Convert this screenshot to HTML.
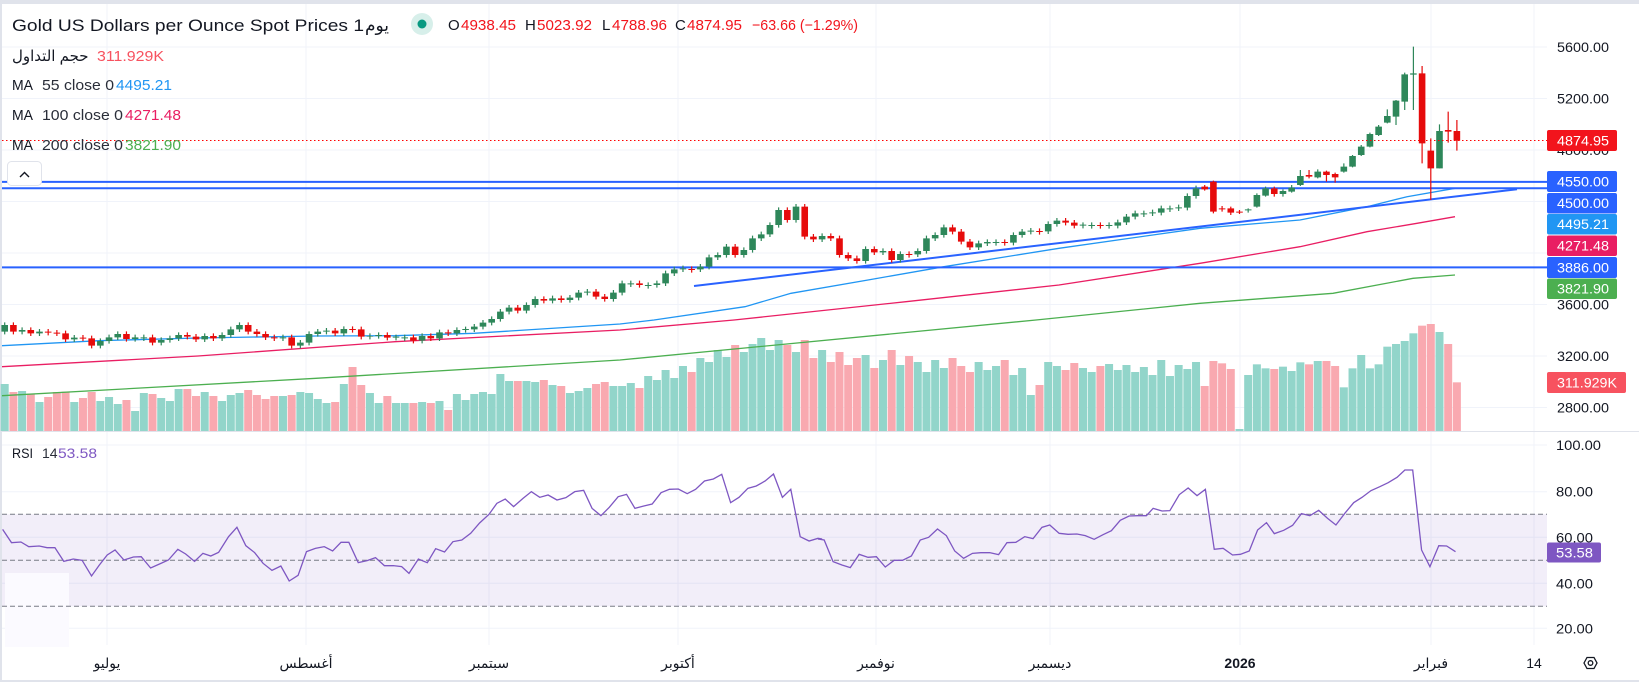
<!DOCTYPE html>
<html><head><meta charset="utf-8">
<style>
html,body{margin:0;padding:0;background:#fff;}
svg{display:block;font-family:"Liberation Sans","DejaVu Sans","Noto Sans CJK SC",sans-serif;}
.g{fill:#92d5ca}.r{fill:#f9a9b0}
.ns{vector-effect:non-scaling-stroke;fill:none}
</style></head>
<body>
<svg width="1639" height="682" viewBox="0 0 1639 682" xmlns="http://www.w3.org/2000/svg">
<rect x="0" y="0" width="1639" height="682" fill="#e0e3eb"/>
<rect x="2" y="4" width="1637" height="676" fill="#ffffff"/>
<g stroke="#f0f3fa" stroke-width="1">
<line x1="2" x2="1547" y1="47" y2="47"/><line x1="2" x2="1547" y1="98.5" y2="98.5"/><line x1="2" x2="1547" y1="150" y2="150"/><line x1="2" x2="1547" y1="201.5" y2="201.5"/><line x1="2" x2="1547" y1="253" y2="253"/><line x1="2" x2="1547" y1="304.5" y2="304.5"/><line x1="2" x2="1547" y1="356" y2="356"/><line x1="2" x2="1547" y1="407.5" y2="407.5"/>
<line y1="4" y2="645" x1="107" x2="107"/><line y1="4" y2="645" x1="306" x2="306"/><line y1="4" y2="645" x1="489" x2="489"/><line y1="4" y2="645" x1="678" x2="678"/><line y1="4" y2="645" x1="876" x2="876"/><line y1="4" y2="645" x1="1050" x2="1050"/><line y1="4" y2="645" x1="1240" x2="1240"/><line y1="4" y2="645" x1="1431" x2="1431"/><line y1="4" y2="645" x1="1534" x2="1534"/>
<line x1="2" x2="1547" y1="445" y2="445"/><line x1="2" x2="1547" y1="491.7" y2="491.7"/><line x1="2" x2="1547" y1="537.3" y2="537.3"/><line x1="2" x2="1547" y1="583.3" y2="583.3"/><line x1="2" x2="1547" y1="628.3" y2="628.3"/>
</g>
<rect x="2" y="514.3" width="1545" height="92" fill="rgba(126,87,194,0.1)"/>
<rect x="5" y="573" width="64" height="74" fill="#fbfaff"/>
<g stroke="#787b86" stroke-dasharray="5 3"><line x1="2" x2="1547" y1="514.3" y2="514.3"/><line x1="2" x2="1547" y1="560.3" y2="560.3"/><line x1="2" x2="1547" y1="606.3" y2="606.3"/></g>
<line x1="0" x2="1639" y1="431.5" y2="431.5" stroke="#e0e3eb"/>

<g transform="translate(4.7,250) scale(8.696,0.33333)">
<rect class="g" x="-0.46" width=".92" y="402" height="141"/><rect class="r" x="0.54" width=".92" y="426" height="117"/><rect class="g" x="1.54" width=".92" y="423" height="120"/><rect class="r" x="2.54" width=".92" y="431" height="112"/><rect class="g" x="3.54" width=".92" y="456" height="87"/><rect class="r" x="4.54" width=".92" y="441" height="102"/><rect class="r" x="5.54" width=".92" y="426" height="117"/><rect class="r" x="6.54" width=".92" y="425" height="118"/><rect class="g" x="7.54" width=".92" y="456" height="87"/><rect class="r" x="8.54" width=".92" y="444" height="99"/>
<rect class="r" x="9.54" width=".92" y="426" height="117"/><rect class="g" x="10.54" width=".92" y="453" height="90"/><rect class="g" x="11.54" width=".92" y="441" height="102"/><rect class="g" x="12.54" width=".92" y="462" height="81"/><rect class="r" x="13.54" width=".92" y="450" height="93"/><rect class="g" x="14.54" width=".92" y="483" height="60"/><rect class="g" x="15.54" width=".92" y="429" height="114"/><rect class="r" x="16.54" width=".92" y="432" height="111"/><rect class="g" x="17.54" width=".92" y="444" height="99"/><rect class="g" x="18.54" width=".92" y="453" height="90"/>
<rect class="g" x="19.54" width=".92" y="417" height="126"/><rect class="r" x="20.54" width=".92" y="417" height="126"/><rect class="r" x="21.54" width=".92" y="438" height="105"/><rect class="g" x="22.54" width=".92" y="426" height="117"/><rect class="r" x="23.54" width=".92" y="438" height="105"/><rect class="g" x="24.54" width=".92" y="453" height="90"/><rect class="g" x="25.54" width=".92" y="435" height="108"/><rect class="g" x="26.54" width=".92" y="429" height="114"/><rect class="r" x="27.54" width=".92" y="420" height="123"/><rect class="r" x="28.54" width=".92" y="435" height="108"/>
<rect class="r" x="29.54" width=".92" y="447" height="96"/><rect class="r" x="30.54" width=".92" y="438" height="105"/><rect class="g" x="31.54" width=".92" y="438" height="105"/><rect class="r" x="32.54" width=".92" y="435" height="108"/><rect class="g" x="33.54" width=".92" y="426" height="117"/><rect class="g" x="34.54" width=".92" y="429" height="114"/><rect class="g" x="35.54" width=".92" y="447" height="96"/><rect class="g" x="36.54" width=".92" y="459" height="84"/><rect class="r" x="37.54" width=".92" y="456" height="87"/><rect class="g" x="38.54" width=".92" y="402" height="141"/>
<rect class="r" x="39.54" width=".92" y="351" height="192"/><rect class="r" x="40.54" width=".92" y="405" height="138"/><rect class="g" x="41.54" width=".92" y="429" height="114"/><rect class="g" x="42.54" width=".92" y="459" height="84"/><rect class="r" x="43.54" width=".92" y="438" height="105"/><rect class="g" x="44.54" width=".92" y="459" height="84"/><rect class="g" x="45.54" width=".92" y="459" height="84"/><rect class="r" x="46.54" width=".92" y="459" height="84"/><rect class="g" x="47.54" width=".92" y="456" height="87"/><rect class="r" x="48.54" width=".92" y="459" height="84"/>
<rect class="g" x="49.54" width=".92" y="453" height="90"/><rect class="r" x="50.54" width=".92" y="480" height="63"/><rect class="g" x="51.54" width=".92" y="432" height="111"/><rect class="g" x="52.54" width=".92" y="450" height="93"/><rect class="g" x="53.54" width=".92" y="432" height="111"/><rect class="g" x="54.54" width=".92" y="426" height="117"/><rect class="g" x="55.54" width=".92" y="432" height="111"/><rect class="g" x="56.54" width=".92" y="372" height="171"/><rect class="g" x="57.54" width=".92" y="393" height="150"/><rect class="r" x="58.54" width=".92" y="393" height="150"/>
<rect class="g" x="59.54" width=".92" y="393" height="150"/><rect class="g" x="60.54" width=".92" y="396" height="147"/><rect class="r" x="61.54" width=".92" y="390" height="153"/><rect class="g" x="62.54" width=".92" y="405" height="138"/><rect class="r" x="63.54" width=".92" y="408" height="135"/><rect class="g" x="64.54" width=".92" y="429" height="114"/><rect class="g" x="65.54" width=".92" y="423" height="120"/><rect class="g" x="66.54" width=".92" y="414" height="129"/><rect class="r" x="67.54" width=".92" y="402" height="141"/><rect class="r" x="68.54" width=".92" y="396" height="147"/>
<rect class="g" x="69.54" width=".92" y="408" height="135"/><rect class="g" x="70.54" width=".92" y="408" height="135"/>
</g>
<g transform="translate(630.8,0) scale(8.696,1)">
<rect class="g" x="-0.46" width=".92" y="383" height="48"/><rect class="r" x="0.54" width=".92" y="388" height="43"/><rect class="g" x="1.54" width=".92" y="376" height="55"/><rect class="g" x="2.54" width=".92" y="380" height="51"/><rect class="g" x="3.54" width=".92" y="370" height="61"/><rect class="g" x="4.54" width=".92" y="378" height="53"/><rect class="g" x="5.54" width=".92" y="366" height="65"/><rect class="r" x="6.54" width=".92" y="372" height="59"/><rect class="g" x="7.54" width=".92" y="358" height="73"/><rect class="g" x="8.54" width=".92" y="362" height="69"/>
<rect class="g" x="9.54" width=".92" y="350" height="81"/><rect class="g" x="10.54" width=".92" y="357" height="74"/><rect class="r" x="11.54" width=".92" y="345" height="86"/><rect class="g" x="12.54" width=".92" y="352" height="79"/><rect class="g" x="13.54" width=".92" y="344" height="87"/><rect class="g" x="14.54" width=".92" y="338" height="93"/><rect class="g" x="15.54" width=".92" y="350" height="81"/><rect class="g" x="16.54" width=".92" y="340" height="91"/><rect class="r" x="17.54" width=".92" y="345" height="86"/><rect class="g" x="18.54" width=".92" y="352" height="79"/>
<rect class="r" x="19.54" width=".92" y="340" height="91"/><rect class="r" x="20.54" width=".92" y="358" height="73"/><rect class="g" x="21.54" width=".92" y="350" height="81"/><rect class="r" x="22.54" width=".92" y="362" height="69"/><rect class="r" x="23.54" width=".92" y="352" height="79"/><rect class="r" x="24.54" width=".92" y="365" height="66"/><rect class="r" x="25.54" width=".92" y="358" height="73"/><rect class="g" x="26.54" width=".92" y="355" height="76"/><rect class="r" x="27.54" width=".92" y="368" height="63"/><rect class="g" x="28.54" width=".92" y="360" height="71"/>
<rect class="r" x="29.54" width=".92" y="350" height="81"/><rect class="g" x="30.54" width=".92" y="365" height="66"/><rect class="r" x="31.54" width=".92" y="356" height="75"/><rect class="g" x="32.54" width=".92" y="362" height="69"/><rect class="g" x="33.54" width=".92" y="372" height="59"/><rect class="g" x="34.54" width=".92" y="360" height="71"/><rect class="g" x="35.54" width=".92" y="368" height="63"/><rect class="r" x="36.54" width=".92" y="358" height="73"/><rect class="r" x="37.54" width=".92" y="366" height="65"/><rect class="r" x="38.54" width=".92" y="372" height="59"/>
<rect class="g" x="39.54" width=".92" y="362" height="69"/><rect class="g" x="40.54" width=".92" y="370" height="61"/><rect class="g" x="41.54" width=".92" y="366" height="65"/><rect class="r" x="42.54" width=".92" y="360" height="71"/><rect class="g" x="43.54" width=".92" y="375" height="56"/><rect class="g" x="44.54" width=".92" y="368" height="63"/><rect class="g" x="45.54" width=".92" y="395" height="36"/><rect class="r" x="46.54" width=".92" y="385" height="46"/><rect class="g" x="47.54" width=".92" y="362" height="69"/><rect class="g" x="48.54" width=".92" y="366" height="65"/>
<rect class="r" x="49.54" width=".92" y="370" height="61"/><rect class="r" x="50.54" width=".92" y="363" height="68"/><rect class="g" x="51.54" width=".92" y="368" height="63"/><rect class="g" x="52.54" width=".92" y="372" height="59"/><rect class="r" x="53.54" width=".92" y="366" height="65"/><rect class="g" x="54.54" width=".92" y="364" height="67"/><rect class="g" x="55.54" width=".92" y="370" height="61"/><rect class="g" x="56.54" width=".92" y="365" height="66"/><rect class="g" x="57.54" width=".92" y="372" height="59"/><rect class="g" x="58.54" width=".92" y="367" height="64"/>
<rect class="g" x="59.54" width=".92" y="375" height="56"/><rect class="g" x="60.54" width=".92" y="360" height="71"/><rect class="g" x="61.54" width=".92" y="376" height="55"/><rect class="g" x="62.54" width=".92" y="365" height="66"/><rect class="g" x="63.54" width=".92" y="369" height="62"/><rect class="g" x="64.54" width=".92" y="362" height="69"/>
</g>
<g transform="translate(1204.7,30) scale(8.696,0.33333)">
<rect class="r" x="-0.46" width=".92" y="1068" height="135"/><rect class="r" x="0.54" width=".92" y="993" height="210"/><rect class="r" x="1.54" width=".92" y="1000" height="203"/><rect class="r" x="2.54" width=".92" y="1017" height="186"/><rect class="g" x="3.54" width=".92" y="1197" height="6"/><rect class="g" x="4.54" width=".92" y="1035" height="168"/><rect class="g" x="5.54" width=".92" y="1003" height="200"/><rect class="g" x="6.54" width=".92" y="1015" height="188"/><rect class="r" x="7.54" width=".92" y="1017" height="186"/><rect class="g" x="8.54" width=".92" y="1010" height="193"/>
<rect class="g" x="9.54" width=".92" y="1023" height="180"/><rect class="g" x="10.54" width=".92" y="997" height="206"/><rect class="r" x="11.54" width=".92" y="1003" height="200"/><rect class="g" x="12.54" width=".92" y="993" height="210"/><rect class="r" x="13.54" width=".92" y="993" height="210"/><rect class="r" x="14.54" width=".92" y="1008" height="195"/><rect class="g" x="15.54" width=".92" y="1072" height="131"/><rect class="g" x="16.54" width=".92" y="1015" height="188"/><rect class="g" x="17.54" width=".92" y="975" height="228"/><rect class="g" x="18.54" width=".92" y="1015" height="188"/>
<rect class="g" x="19.54" width=".92" y="1003" height="200"/><rect class="g" x="20.54" width=".92" y="950" height="253"/><rect class="g" x="21.54" width=".92" y="942" height="261"/><rect class="g" x="22.54" width=".92" y="933" height="270"/><rect class="g" x="23.54" width=".92" y="910" height="293"/><rect class="r" x="24.54" width=".92" y="887" height="316"/><rect class="r" x="25.54" width=".92" y="882" height="321"/><rect class="g" x="26.54" width=".92" y="906" height="297"/><rect class="r" x="27.54" width=".92" y="942" height="261"/><rect class="r" x="28.54" width=".92" y="1057" height="146"/>
</g>

<polyline fill="none" stroke="#2196f3" stroke-width="1.3" points="2,345.7 99,340.7 198,338 316,336 395,335.7 474,333.3 620,324 654,320 745,306.7 791,293.3 868,280 944,266.7 1059,248.3 1200,228.3 1300,220 1367,206.7 1407,196.7 1455,188.3"/>
<polyline fill="none" stroke="#e91e63" stroke-width="1.3" points="2,366.7 198,356 395,341.7 620,330 734,320 906,301.7 1059,285 1200,263.3 1300,246.7 1367,231.7 1417,223.3 1455,216.7"/>
<polyline fill="none" stroke="#4caf50" stroke-width="1.3" points="2,395.7 316,378.3 620,360 1036,320 1200,303.3 1333,293.3 1413,278.3 1455,275"/>
<g stroke="#2962ff" stroke-width="2">
<line x1="2" x2="1547" y1="181.9" y2="181.9"/><line x1="2" x2="1547" y1="188.3" y2="188.3"/><line x1="2" x2="1547" y1="267.4" y2="267.4"/>
<line x1="694" y1="286" x2="1517" y2="189.3"/>
</g>

<g transform="translate(4.7,250) scale(8.696,0.33333)">
<path class="ns" stroke="#2e875a" stroke-width="1.2" d="M0 217V253M2 232V253M4 237V258M8 255V276M11 265V295M12 254V281M13 244V270M15 254V275M16 254V273M18 262V286M19 257V278M20 247V273M23 250V276M25 247V273M26 230V263M27 217V246M32 254V273M34 270V295M35 244V286M36 237V260M37 234V253M39 229V258M42 250V268M43 247V266M45 254V271M46 254V273M48 250V280M50 239V273M52 232V258M53 230V248M54 222V246M55 210V238M56 199V226M57 177V215M58 165V193M60 157V190M61 139V173M63 137V160M65 135V158M66 120V151M67 117V136M70 120V155M71 92V136"/>
<path class="ns" stroke="#2e875a" stroke-width="6.6" d="M0 245V225M2 245V240M4 250V245M8 268V263M11 287V273M12 273V262M13 262V252M15 267V262M16 262V265M18 278V270M19 270V265M20 265V255M23 268V258M25 265V255M26 255V238M27 238V225M32 265V262M34 287V278M35 278V252M36 252V245M37 245V242M39 250V237M42 260V258M43 258V255M45 263V260M46 262V265M48 272V258M50 265V247M52 250V240M53 240V237M54 238V230M55 230V218M56 218V207M57 207V185M58 185V173M60 182V165M61 165V147M63 152V145M65 150V143M66 143V128M67 128V125M70 147V128M71 128V100"/>
<path class="ns" stroke="#e60b0b" stroke-width="1.2" d="M1 217V253M3 232V258M5 237V256M6 240V258M7 242V276M9 255V273M10 257V295M14 244V275M17 254V286M21 247V268M22 252V276M24 250V273M28 217V253M29 237V260M30 244V270M31 254V273M33 254V295M38 234V258M40 229V248M41 230V268M44 247V271M47 254V280M49 250V273M51 239V258M59 165V190M62 139V160M64 137V158M68 117V148M69 132V155"/>
<path class="ns" stroke="#e60b0b" stroke-width="6.6" d="M1 225V245M3 240V250M5 245V248M6 248V251M7 250V268M9 263V266M10 265V287M14 252V267M17 262V278M21 255V260M22 260V268M24 258V265M28 225V245M29 245V252M30 252V262M31 262V265M33 262V287M38 242V250M40 237V240M41 238V260M44 255V263M47 262V272M49 258V265M51 247V250M59 173V182M62 147V152M64 145V150M68 125V140M69 140V147"/>
</g>
<g transform="translate(630.8,170) scale(8.696,0.33333)">
<path class="ns" stroke="#2e875a" stroke-width="1.2" d="M0 332V351M2 337V356M3 332V353M4 302V348M5 290V318M6 287V306M8 282V306M9 254V298M10 247V270M11 222V263M13 232V263M14 197V248M15 185V213M16 157V201M17 112V173M19 102V158M22 190V216M27 229V281M29 235V255M31 244V278M33 235V261M34 197V251M35 187V213M36 164V203M40 212V240M41 208V228M42 208V227M44 187V226M45 177V203M46 174V193M48 154V192M49 144V170M52 157V175M53 157V176M55 157V176M56 149V175M57 132V165M58 122V148M59 122V141M60 119V138M61 107V136M62 107V126M63 104V123M64 70V121M65 47V86"/>
<path class="ns" stroke="#2e875a" stroke-width="6.6" d="M0 340V343M2 345V348M3 345V340M4 340V310M5 310V298M6 298V295M8 298V290M9 290V262M10 262V255M11 255V230M13 255V240M14 240V205M15 205V193M16 193V165M17 165V120M19 150V110M22 208V198M27 273V237M29 247V243M31 270V252M33 253V243M34 243V205M35 205V195M36 195V172M40 232V220M41 220V216M42 216V219M44 218V195M45 195V185M46 185V182M48 184V162M49 162V152M52 167V164M53 165V168M55 168V165M56 167V157M57 157V140M58 140V130M59 130V133M60 130V127M61 128V115M62 115V118M63 115V112M64 113V78M65 78V55"/>
<path class="ns" stroke="#e60b0b" stroke-width="1.2" d="M1 332V353M7 289V308M12 222V263M18 112V158M20 102V208M21 192V216M23 190V213M24 197V263M25 247V273M26 257V281M28 229V255M30 235V278M32 244V263M37 164V193M38 177V223M39 207V240M43 208V227M47 175V194M50 144V166M51 150V175M54 157V176"/>
<path class="ns" stroke="#e60b0b" stroke-width="6.6" d="M1 340V345M7 297V300M12 230V255M18 120V150M20 110V200M21 200V208M23 198V205M24 205V255M25 255V265M26 265V273M28 237V247M30 243V270M32 252V255M37 172V185M38 185V215M39 215V232M43 216V219M47 183V186M50 152V158M51 158V167M54 165V168"/>
</g>
<g transform="translate(1204.7,30) scale(8.696,0.33333)">
<path class="ns" stroke="#2e875a" stroke-width="1.2" d="M5 535V548M6 490V533M7 470V500M9 478V500M10 465V488M11 420V468M13 418V445M16 400V428M17 375V412M18 345V378M19 308V352M20 285V318M21 238V280M22 210V285M23 128V240M24 50V240M27 283V415"/>
<path class="ns" stroke="#2e875a" stroke-width="6.6" d="M5 541V538M6 530V495M7 497V475M9 492V483M10 485V473M11 465V438M13 442V425M16 425V410M17 410V378M18 375V350M19 350V312M20 315V290M21 278V258M22 260V212M23 215V133M24 134V130M27 415V303"/>
<path class="ns" stroke="#e60b0b" stroke-width="1.2" d="M0 465V482M1 452V550M2 528V545M3 530V555M4 540V552M8 470V500M12 420V445M14 422V455M15 428V458M25 108V400M26 325V510M28 245V338M29 270V362"/>
<path class="ns" stroke="#e60b0b" stroke-width="6.6" d="M0 470V478M1 455V545M2 535V538M3 535V548M4 545V548M8 475V492M12 435V440M14 425V435M15 432V442M25 130V340M26 362V415M28 300V305M29 303V332"/>
</g>
<line x1="2" x2="1547" y1="140.5" y2="140.5" stroke="#f00" stroke-width="1" stroke-dasharray="1.5 2.5"/>

<g transform="translate(0,420) scale(0.523,0.33333)">
<polyline class="ns" stroke="#7e57c2" stroke-width="1.3" points="5,328 22,368 40,366 55,380 75,378 90,383 105,383 122,424 140,417 157,421 175,468 190,435 205,405 220,390 237,420 255,411 270,410 288,444 305,432 322,420 340,388 355,402 372,424 388,400 403,408 418,397 437,350 453,322 470,377 487,398 503,430 520,451 537,438 553,483 570,466 586,395 603,385 620,380 636,393 652,367 667,367 685,428 702,422 718,413 735,437 752,437 768,440 782,460 800,417 817,428 833,386 850,396 866,365 883,360 900,340 917,309 935,283 950,250 966,237 982,260 1000,235 1016,215 1032,232 1048,225 1065,240 1082,233 1099,215 1116,211 1132,265 1149,287 1165,262 1182,230 1198,223 1214,265 1231,258 1247,252 1264,218 1280,208 1297,207 1314,221 1330,208 1347,183 1364,177 1380,163 1397,248 1413,232 1430,205 1446,198 1463,183 1479,162 1496,232 1512,208 1530,350 1547,363 1564,355 1572,357"/>
</g>
<g transform="translate(820,420) scale(0.5222,0.33333)">
<polyline class="ns" stroke="#7e57c2" stroke-width="1.3" points="-4,357 8,360 25,425 42,435 58,443 75,403 92,412 108,410 125,441 142,421 158,421 175,408 192,360 208,352 225,327 242,347 258,393 275,415 292,400 308,398 325,398 342,404 358,368 375,367 392,350 408,356 425,322 440,315 458,340 475,343 492,342 508,347 525,358 542,344 558,332 575,301 592,288 608,287 625,287 638,265 655,273 670,272 688,224 705,204 722,227 738,208 755,388 772,385 790,405 805,403 822,393 838,330 855,308 870,341 888,331 905,316 922,281 938,287 955,271 972,295 988,315 1005,280 1022,248 1038,232 1055,212 1072,200 1088,188 1105,172 1120,150 1135,150 1152,390 1168,440 1185,377 1200,378 1217,395"/>
</g>

<text x="12" y="31" font-size="17" fill="#131722" textLength="352" lengthAdjust="spacingAndGlyphs">Gold US Dollars per Ounce Spot Prices 1</text>
<text x="365" y="31" font-size="17" fill="#131722">يوم</text>
<circle cx="422" cy="24" r="11" fill="#d7efea"/><circle cx="422" cy="24" r="4.5" fill="#089981"/>
<g font-size="15">
<text x="448" y="30" fill="#131722">O</text><text x="461" y="30" fill="#f2141c" textLength="55" lengthAdjust="spacingAndGlyphs">4938.45</text>
<text x="525" y="30" fill="#131722">H</text><text x="537" y="30" fill="#f2141c" textLength="55" lengthAdjust="spacingAndGlyphs">5023.92</text>
<text x="602" y="30" fill="#131722">L</text><text x="612" y="30" fill="#f2141c" textLength="55" lengthAdjust="spacingAndGlyphs">4788.96</text>
<text x="675" y="30" fill="#131722">C</text><text x="687" y="30" fill="#f2141c" textLength="55" lengthAdjust="spacingAndGlyphs">4874.95</text>
<text x="752" y="30" fill="#f2141c" textLength="106" lengthAdjust="spacingAndGlyphs">−63.66 (−1.29%)</text>
<text x="12" y="61" fill="#131722">حجم التداول</text>
<text x="97" y="61" fill="#f7525f" textLength="67" lengthAdjust="spacingAndGlyphs">311.929K</text>
<text x="12" y="90" fill="#131722" textLength="21" lengthAdjust="spacingAndGlyphs">MA</text><text x="42" y="90" fill="#2a2e39" textLength="72" lengthAdjust="spacingAndGlyphs">55 close 0</text><text x="116" y="90" fill="#2196f3" textLength="56" lengthAdjust="spacingAndGlyphs">4495.21</text>
<text x="12" y="120" fill="#131722" textLength="21" lengthAdjust="spacingAndGlyphs">MA</text><text x="42" y="120" fill="#2a2e39" textLength="81" lengthAdjust="spacingAndGlyphs">100 close 0</text><text x="125" y="120" fill="#e91e63" textLength="56" lengthAdjust="spacingAndGlyphs">4271.48</text>
<text x="12" y="150" fill="#131722" textLength="21" lengthAdjust="spacingAndGlyphs">MA</text><text x="42" y="150" fill="#2a2e39" textLength="81" lengthAdjust="spacingAndGlyphs">200 close 0</text><text x="125" y="150" fill="#4caf50" textLength="56" lengthAdjust="spacingAndGlyphs">3821.90</text>
</g>
<rect x="7.5" y="161.5" width="34" height="24" rx="4" fill="#fff" stroke="#e0e3eb"/><polyline points="20,177 24.5,172.5 29,177" fill="none" stroke="#131722" stroke-width="1.4"/>
<g font-size="14">
<text x="12" y="458" fill="#131722" textLength="21" lengthAdjust="spacingAndGlyphs">RSI</text><text x="42" y="458" fill="#2a2e39">14</text><text x="58" y="458" fill="#7e57c2" textLength="39" lengthAdjust="spacingAndGlyphs">53.58</text>
</g>

<g font-size="14" fill="#131722">
<text x="1557" y="52" textLength="52" lengthAdjust="spacingAndGlyphs">5600.00</text>
<text x="1557" y="103.5" textLength="52" lengthAdjust="spacingAndGlyphs">5200.00</text>
<text x="1557" y="155" textLength="52" lengthAdjust="spacingAndGlyphs">4800.00</text>
<text x="1557" y="309.5" textLength="52" lengthAdjust="spacingAndGlyphs">3600.00</text>
<text x="1557" y="361" textLength="52" lengthAdjust="spacingAndGlyphs">3200.00</text>
<text x="1557" y="412.5" textLength="52" lengthAdjust="spacingAndGlyphs">2800.00</text>
<text x="1556" y="450" textLength="45" lengthAdjust="spacingAndGlyphs">100.00</text>
<text x="1556" y="496.7" textLength="37" lengthAdjust="spacingAndGlyphs">80.00</text>
<text x="1556" y="542.3" textLength="37" lengthAdjust="spacingAndGlyphs">60.00</text>
<text x="1556" y="588.3" textLength="37" lengthAdjust="spacingAndGlyphs">40.00</text>
<text x="1556" y="633.3" textLength="37" lengthAdjust="spacingAndGlyphs">20.00</text>
</g>
<rect x="1547" y="130" width="70" height="21" rx="2" fill="#f2141c"/>
<rect x="1547" y="171" width="70" height="21" rx="2" fill="#2962ff"/>
<rect x="1547" y="193" width="70" height="20.5" rx="2" fill="#2962ff"/>
<rect x="1547" y="214" width="70" height="20.5" rx="2" fill="#2196f3"/>
<rect x="1547" y="235.5" width="70" height="20.5" rx="2" fill="#e91e63"/>
<rect x="1547" y="257" width="70" height="21" rx="2" fill="#2962ff"/>
<rect x="1547" y="278.5" width="70" height="20.5" rx="2" fill="#4caf50"/>
<rect x="1547" y="372" width="79" height="21" rx="2" fill="#f7525f"/>
<rect x="1547" y="542.5" width="54" height="20" rx="2" fill="#7e57c2"/>
<g font-size="14" fill="#ffffff">
<text x="1557" y="145.5" textLength="52" lengthAdjust="spacingAndGlyphs">4874.95</text>
<text x="1557" y="186.5" textLength="52" lengthAdjust="spacingAndGlyphs">4550.00</text>
<text x="1557" y="208" textLength="52" lengthAdjust="spacingAndGlyphs">4500.00</text>
<text x="1557" y="229" textLength="52" lengthAdjust="spacingAndGlyphs">4495.21</text>
<text x="1557" y="250.5" textLength="52" lengthAdjust="spacingAndGlyphs">4271.48</text>
<text x="1557" y="272.5" textLength="52" lengthAdjust="spacingAndGlyphs">3886.00</text>
<text x="1557" y="293.5" textLength="52" lengthAdjust="spacingAndGlyphs">3821.90</text>
<text x="1557" y="387.5" textLength="60" lengthAdjust="spacingAndGlyphs">311.929K</text>
<text x="1556" y="557.5" textLength="37" lengthAdjust="spacingAndGlyphs">53.58</text>
</g>

<g font-size="14" fill="#131722" text-anchor="middle">
<text x="107" y="668">يوليو</text>
<text x="306" y="668">أغسطس</text>
<text x="489" y="668">سبتمبر</text>
<text x="678" y="668">أكتوبر</text>
<text x="876" y="668">نوفمبر</text>
<text x="1050" y="668">ديسمبر</text>
<text x="1240" y="668" font-weight="bold">2026</text>
<text x="1431" y="668">فبراير</text>
<text x="1534" y="668">14</text>
</g>
<polygon points="1584,663 1587,657.5 1594,657.5 1597,663 1594,668.5 1587,668.5" fill="none" stroke="#131722" stroke-width="1.3"/>
<circle cx="1590.5" cy="663" r="2.3" fill="none" stroke="#131722" stroke-width="1.3"/>
<line x1="0" x2="1639" y1="680.5" y2="680.5" stroke="#e0e3eb"/>
</svg>
</body></html>
